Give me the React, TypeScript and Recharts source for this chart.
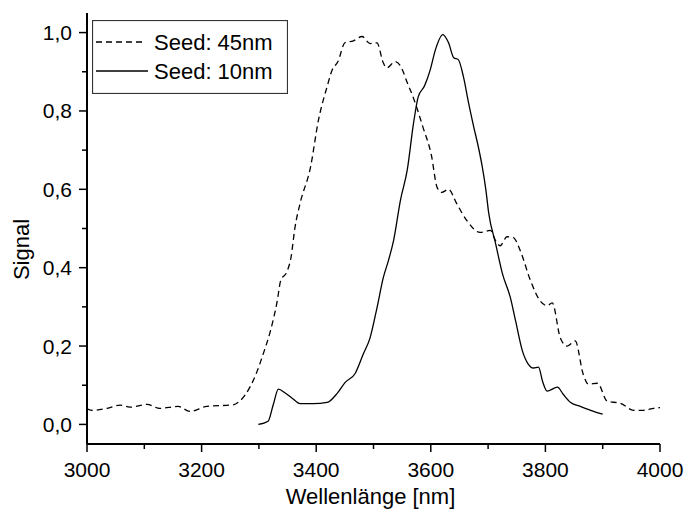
import React from 'react';
import { LineChart, Line, XAxis, YAxis, Legend } from 'recharts';

// Seed 45nm (dashed)
const wave45 = [
  3000, 3010, 3035, 3058, 3075, 3105, 3127, 3159, 3180, 3209, 3255, 3267, 3285, 3297, 3308, 3320,
  3332, 3338, 3349, 3356, 3363, 3372, 3390, 3404, 3419, 3428, 3438, 3450, 3465, 3480, 3494, 3506,
  3517, 3523, 3538, 3547, 3559, 3570, 3586, 3601, 3611, 3619, 3631, 3645, 3663, 3686, 3704, 3713,
  3721, 3733, 3744, 3756, 3774, 3791, 3803, 3812, 3826, 3838, 3852, 3866, 3875, 3891, 3908, 3931,
  3954, 3971, 3989, 4000,
];
const signal45 = [
  0.04, 0.036, 0.041, 0.049, 0.044, 0.051, 0.041, 0.046, 0.033, 0.046, 0.05, 0.06, 0.097, 0.136, 0.182, 0.238,
  0.315, 0.367, 0.39, 0.426, 0.503, 0.565, 0.656, 0.777, 0.862, 0.905, 0.926, 0.974, 0.979, 0.99, 0.972, 0.974,
  0.923, 0.91, 0.926, 0.915, 0.872, 0.832, 0.76, 0.687, 0.605, 0.592, 0.6, 0.564, 0.52, 0.49, 0.495, 0.469,
  0.456, 0.479, 0.477, 0.444, 0.367, 0.315, 0.303, 0.31, 0.221, 0.2, 0.213, 0.128, 0.103, 0.105, 0.059, 0.054,
  0.036, 0.036, 0.041, 0.043,
];

// Seed 10nm (solid)
const wave10 = [
  3299, 3316, 3325, 3334, 3346, 3358, 3372, 3395, 3419, 3437, 3451, 3468, 3482, 3494, 3506, 3517,
  3526, 3535, 3547, 3559, 3570, 3578, 3589, 3599, 3608, 3621, 3631, 3640, 3648, 3657, 3666, 3675,
  3683, 3690, 3696, 3701, 3713, 3725, 3739, 3748, 3760, 3770, 3779, 3788, 3795, 3803, 3821, 3831,
  3844, 3861, 3879, 3900,
];
const signal10 = [
  0.0, 0.008, 0.05, 0.09, 0.08, 0.067, 0.053, 0.053, 0.056, 0.08, 0.108, 0.13, 0.179, 0.221, 0.297, 0.374,
  0.418, 0.469, 0.572, 0.65, 0.77, 0.836, 0.864, 0.905, 0.956, 0.995, 0.974, 0.936, 0.931, 0.887, 0.82, 0.759,
  0.708, 0.656, 0.6, 0.54, 0.462, 0.385, 0.323, 0.264, 0.187, 0.154, 0.144, 0.146, 0.11, 0.085, 0.095, 0.077,
  0.056, 0.046, 0.036, 0.026,
];

const seriesNames = ['Seed: 45nm', 'Seed: 10nm'];
const seriesDash = ['6 4', ''];

const xTicks = [3000, 3100, 3200, 3300, 3400, 3500, 3600, 3700, 3800, 3900, 4000];
const xLabels = [3000, 3200, 3400, 3600, 3800, 4000];
const yTicks = [0, 0.1, 0.2, 0.3, 0.4, 0.5, 0.6, 0.7, 0.8, 0.9, 1.0];
const yLabels = [0, 0.2, 0.4, 0.6, 0.8, 1.0];

const FONT = '"Liberation Sans", Arial, sans-serif';

const toPoints = (xs: number[], ys: number[]) => xs.map((x, i) => ({ x, y: ys[i] }));
const data45 = toPoints(wave45, signal45);
const data10 = toPoints(wave10, signal10);

const isMajor = (list: number[], v: number) => list.some((m) => Math.abs(m - v) < 1e-6);
const fmtY = (v: number) => v.toFixed(1).replace('.', ',');

const BottomTick = (props: any) => {
  const { x, y, payload } = props;
  const major = isMajor(xLabels, payload.value);
  return (
    <g>
      <line x1={x} y1={y} x2={x} y2={y + (major ? 8 : 5)} stroke="#000" strokeWidth={1.5} />
      {major && (
        <text x={x} y={y + 33} textAnchor="middle" fontSize={21} fontFamily={FONT} fill="#000">
          {payload.value}
        </text>
      )}
    </g>
  );
};

const TopTick = (props: any) => {
  const { x, y, payload } = props;
  const major = isMajor(xLabels, payload.value);
  return <line x1={x} y1={y} x2={x} y2={y + (major ? 6 : 4)} stroke="#000" strokeWidth={1.3} />;
};

const LeftTick = (props: any) => {
  const { x, y, payload } = props;
  const major = isMajor(yLabels, payload.value);
  return (
    <g>
      <line x1={x} y1={y} x2={x - (major ? 8 : 5)} y2={y} stroke="#000" strokeWidth={1.5} />
      {major && (
        <text x={x - 15} y={y + 7.5} textAnchor="end" fontSize={21} fontFamily={FONT} fill="#000">
          {fmtY(payload.value)}
        </text>
      )}
    </g>
  );
};

const RightTick = (props: any) => {
  const { x, y, payload } = props;
  const major = isMajor(yLabels, payload.value);
  return <line x1={x} y1={y} x2={x - (major ? 6 : 4)} y2={y} stroke="#000" strokeWidth={1.3} />;
};

// legend drawn in series order, whatever order recharts hands the payload in
const LegendBox = (props: any) => {
  const payload = [...(props.payload || [])].sort(
    (a: any, b: any) => seriesNames.indexOf(a.value) - seriesNames.indexOf(b.value)
  );
  return (
    <svg width={196} height={74} style={{ display: 'block' }}>
      <rect x={0.5} y={0.5} width={195} height={73} fill="#fff" stroke="#333" strokeWidth={1.2} />
      {payload.map((entry: any, i: number) => {
        const dash = seriesDash[seriesNames.indexOf(entry.value)];
        const cy = 22 + i * 29;
        return (
          <g key={entry.value}>
            <line
              x1={4}
              y1={cy}
              x2={dash ? 51 : 56}
              y2={cy}
              stroke="#000"
              strokeWidth={1.3}
              strokeDasharray={dash || undefined}
            />
            <text x={62} y={cy + 8} fontSize={22} fontFamily={FONT} fill="#000">
              {entry.value}
            </text>
          </g>
        );
      })}
    </svg>
  );
};

const App: React.FC = () => {
  return (
    <div style={{ position: 'absolute', left: 0, top: 0, background: '#fff' }}>
      <LineChart width={685} height={509} margin={{ top: 13, right: 25, left: 17, bottom: 15 }}>
        <XAxis
          xAxisId={0}
          dataKey="x"
          type="number"
          domain={[3000, 4000]}
          allowDataOverflow
          ticks={xTicks}
          interval={0}
          tickSize={0}
          tickMargin={0}
          tickLine={false}
          tick={BottomTick}
          height={50}
          axisLine={{ stroke: '#000', strokeWidth: 2 }}
          label={{
            content: (p: any) => (
              <text
                x={p.viewBox.x + p.viewBox.width / 2 - 3}
                y={p.viewBox.y + 60}
                textAnchor="middle"
                fontSize={22}
                fontFamily={FONT}
                fill="#000"
              >
                Wellenlänge [nm]
              </text>
            ),
          }}
        />
        <XAxis
          xAxisId="top"
          orientation="top"
          dataKey="x"
          type="number"
          domain={[3000, 4000]}
          allowDataOverflow
          ticks={xTicks}
          interval={0}
          tickSize={0}
          tickMargin={0}
          tickLine={false}
          tick={TopTick}
          height={0}
          axisLine={{ stroke: '#000', strokeWidth: 2 }}
        />
        <YAxis
          yAxisId={0}
          type="number"
          domain={[-0.05, 1.05]}
          allowDataOverflow
          ticks={yTicks}
          interval={0}
          tickSize={0}
          tickMargin={0}
          tickLine={false}
          tick={LeftTick}
          width={70}
          axisLine={{ stroke: '#000', strokeWidth: 2 }}
          label={{
            content: (p: any) => {
              const lx = p.viewBox.x + 12;
              const ly = p.viewBox.y + p.viewBox.height / 2 + 21;
              return (
                <text
                  x={lx}
                  y={ly}
                  transform={`rotate(-90, ${lx}, ${ly})`}
                  textAnchor="middle"
                  fontSize={22}
                  fontFamily={FONT}
                  fill="#000"
                >
                  Signal
                </text>
              );
            },
          }}
        />
        <YAxis
          yAxisId="right"
          orientation="right"
          type="number"
          domain={[-0.05, 1.05]}
          allowDataOverflow
          ticks={yTicks}
          interval={0}
          tickSize={0}
          tickMargin={0}
          tickLine={false}
          tick={RightTick}
          width={0}
          axisLine={{ stroke: '#000', strokeWidth: 2 }}
        />
        <Legend
          layout="horizontal"
          align="center"
          verticalAlign="middle"
          content={LegendBox}
          wrapperStyle={{ position: 'absolute', left: 92, top: 20, width: 196, height: 74 }}
        />
        <Line
          data={data45}
          dataKey="y"
          name={seriesNames[0]}
          type="monotone"
          stroke="#000"
          strokeWidth={1.3}
          strokeDasharray={seriesDash[0]}
          dot={false}
          activeDot={false}
          isAnimationActive={false}
        />
        <Line
          data={data10}
          dataKey="y"
          name={seriesNames[1]}
          type="monotone"
          stroke="#000"
          strokeWidth={1.3}
          dot={false}
          activeDot={false}
          isAnimationActive={false}
        />
      </LineChart>
    </div>
  );
};

export default App;
